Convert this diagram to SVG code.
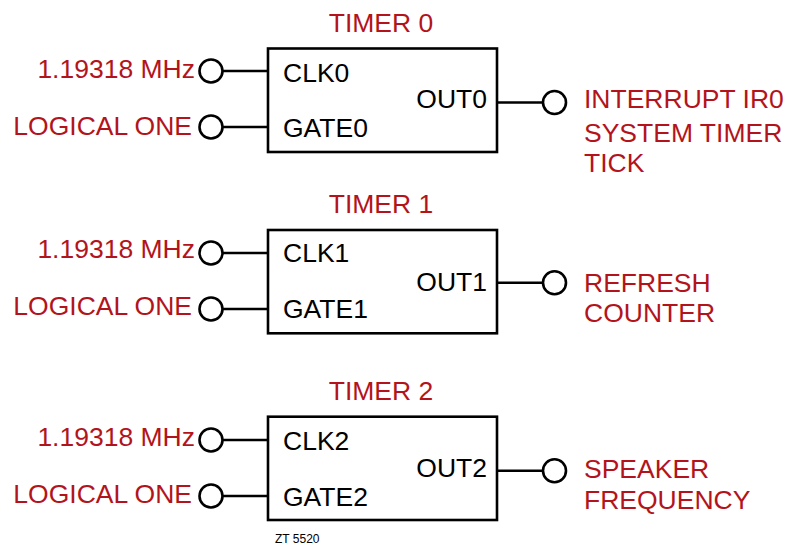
<svg xmlns="http://www.w3.org/2000/svg" width="786" height="545" viewBox="0 0 786 545">
<style>
text{font-family:"Liberation Sans",Arial,sans-serif;font-size:26.5px}
.r{fill:#b3141c}
.k{fill:#000}
.e{text-anchor:end}
.m{text-anchor:middle}
.box{fill:#fff;stroke:#000;stroke-width:2.6}
.w{stroke:#000;stroke-width:2.6;fill:none}
.pin{fill:#fff;stroke:#000;stroke-width:2.6}
</style>
<rect width="786" height="545" fill="#fff"/>
<g id="connectors">
<line class="w" x1="223" y1="71" x2="268" y2="71"/>
<line class="w" x1="223" y1="127" x2="268" y2="127"/>
<line class="w" x1="497" y1="102.5" x2="543" y2="102.5"/>
<line class="w" x1="223" y1="253" x2="268" y2="253"/>
<line class="w" x1="223" y1="309" x2="268" y2="309"/>
<line class="w" x1="497" y1="282.7" x2="543" y2="282.7"/>
<line class="w" x1="223" y1="440" x2="268" y2="440"/>
<line class="w" x1="223" y1="496" x2="268" y2="496"/>
<line class="w" x1="497" y1="470.7" x2="543" y2="470.7"/>
</g>
<g id="timer0">
<text class="r m" x="381" y="32">TIMER 0</text>
<rect class="box" x="268" y="48.5" width="229" height="103.5"/>
<text class="k" x="283" y="81.5">CLK0</text>
<text class="k" x="283" y="137">GATE0</text>
<text class="k e" x="487" y="108.3">OUT0</text>
</g>
<g id="timer0-inputs">
<circle class="pin" cx="211" cy="71" r="11.5"/>
<circle class="pin" cx="211" cy="127" r="11.5"/>
<text class="r e" x="195" y="78">1.19318 MHz</text>
<text class="r e" x="192" y="135">LOGICAL ONE</text>
</g>
<g id="timer0-output">
<circle class="pin" cx="554.5" cy="102.5" r="11.5"/>
<text class="r" x="584" y="108">INTERRUPT IR0</text>
<text class="r" x="584" y="141.5">SYSTEM TIMER</text>
<text class="r" x="584" y="172">TICK</text>
</g>
<g id="timer1">
<text class="r m" x="381" y="213">TIMER 1</text>
<rect class="box" x="268" y="230" width="229" height="103.3"/>
<text class="k" x="283" y="262.3">CLK1</text>
<text class="k" x="283" y="317.7">GATE1</text>
<text class="k e" x="487" y="290.7">OUT1</text>
</g>
<g id="timer1-inputs">
<circle class="pin" cx="211" cy="253" r="11.5"/>
<circle class="pin" cx="211" cy="309" r="11.5"/>
<text class="r e" x="195" y="258.3">1.19318 MHz</text>
<text class="r e" x="192" y="315">LOGICAL ONE</text>
</g>
<g id="timer1-output">
<circle class="pin" cx="554.5" cy="282.7" r="11.5"/>
<text class="r" x="584" y="291.5">REFRESH</text>
<text class="r" x="584" y="321.7">COUNTER</text>
</g>
<g id="timer2">
<text class="r m" x="381" y="399.5">TIMER 2</text>
<rect class="box" x="268" y="416.7" width="229" height="103.3"/>
<text class="k" x="283" y="450">CLK2</text>
<text class="k" x="283" y="505.7">GATE2</text>
<text class="k e" x="487" y="477">OUT2</text>
</g>
<g id="timer2-inputs">
<circle class="pin" cx="211" cy="440" r="11.5"/>
<circle class="pin" cx="211" cy="496" r="11.5"/>
<text class="r e" x="195" y="446">1.19318 MHz</text>
<text class="r e" x="192" y="502.7">LOGICAL ONE</text>
</g>
<g id="timer2-output">
<circle class="pin" cx="554.5" cy="470.7" r="11.5"/>
<text class="r" x="584" y="478">SPEAKER</text>
<text class="r" x="584" y="509">FREQUENCY</text>
</g>
<text x="275" y="542.5" style="font-size:12px" fill="#000">ZT 5520</text>
</svg>
